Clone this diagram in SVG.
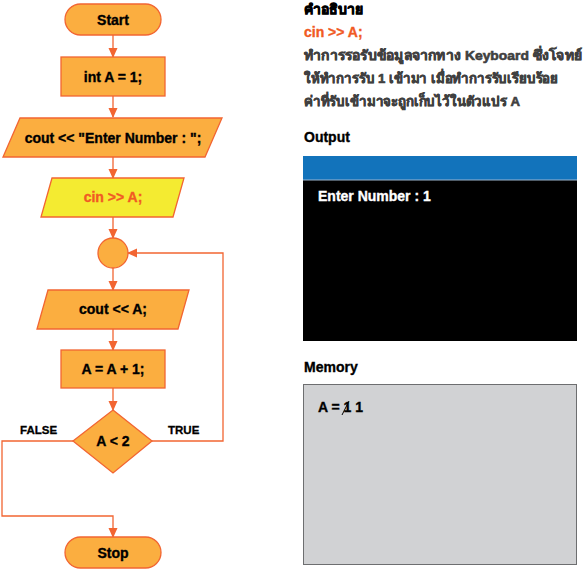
<svg xmlns="http://www.w3.org/2000/svg" width="585" height="569" viewBox="0 0 585 569">
<defs>
<style>
.sh{fill:#FBAE40;stroke:#F26532;stroke-width:1.3}
.yl{fill:#F4EB31;stroke:#F26532;stroke-width:1.3}
.ln{fill:none;stroke:#F26532;stroke-width:1.3}
.t{font-family:"Liberation Sans","Noto Sans",sans-serif;font-weight:bold;font-size:14px;fill:#000;stroke:#000;stroke-width:0.35}
.c{text-anchor:middle}
.red{fill:#F15A24;stroke:#F15A24}
.wh{fill:#fff;stroke:#fff}
.th{font-family:"Liberation Sans","Noto Sans","DejaVu Sans",sans-serif;font-weight:bold;font-size:13.5px;fill:#404040;stroke:#404040;stroke-width:0.6}
.lb{font-family:"Liberation Sans",sans-serif;font-weight:bold;font-size:11.5px;fill:#000;stroke:#000;stroke-width:0.3}
</style>
<marker id="ah" markerWidth="10" markerHeight="10" refX="9" refY="5" orient="auto" markerUnits="userSpaceOnUse">
<path d="M0,0.5 L10,5 L0,9.5 Z" fill="#F26532"/>
</marker>
</defs>
<rect width="585" height="569" fill="#fff"/>
<g id="connectors">
<line class="ln" x1="113" y1="35" x2="113" y2="57" marker-end="url(#ah)"/>
<line class="ln" x1="113" y1="96" x2="113" y2="117" marker-end="url(#ah)"/>
<line class="ln" x1="113" y1="157" x2="113" y2="178" marker-end="url(#ah)"/>
<line class="ln" x1="113" y1="217" x2="113" y2="238" marker-end="url(#ah)"/>
<line class="ln" x1="113" y1="268" x2="113" y2="290" marker-end="url(#ah)"/>
<line class="ln" x1="113" y1="329" x2="113" y2="350" marker-end="url(#ah)"/>
<line class="ln" x1="113" y1="388" x2="113" y2="410" marker-end="url(#ah)"/>
<polyline class="ln" points="73,441 2,441 2,516 113,516 113,537" marker-end="url(#ah)"/>
<polyline class="ln" points="152,441 223,441 223,253 128,253" marker-end="url(#ah)"/>
<text class="lb" x="20" y="434">FALSE</text>
<text class="lb" x="168" y="434">TRUE</text>
</g>
<g id="start">
<rect class="sh" x="65" y="4" width="96" height="31" rx="15.5"/>
<text class="t c" x="113" y="24.5" font-size="15">Start</text>
</g>
<g id="initA">
<rect class="sh" x="61" y="57" width="104" height="39"/>
<text class="t c" x="113" y="81.5">int A = 1;</text>
</g>
<g id="coutEnter">
<polygon class="sh" points="20,118 222,118 205,157 3,157"/>
<text class="t c" x="113" y="142.5">cout &lt;&lt; "Enter Number : ";</text>
</g>
<g id="cin">
<polygon class="yl" points="52,178 184,178 173,217 41,217"/>
<text class="t c red" x="113" y="202">cin &gt;&gt; A;</text>
</g>
<g id="connector">
<circle class="sh" cx="113" cy="253" r="15"/>
</g>
<g id="coutA">
<polygon class="sh" points="48,290 189,290 178,329 37,329"/>
<text class="t c" x="113" y="314">cout &lt;&lt; A;</text>
</g>
<g id="incA">
<rect class="sh" x="61" y="350" width="104" height="38"/>
<text class="t c" x="113" y="374">A = A + 1;</text>
</g>
<g id="decision">
<polygon class="sh" points="113,410 152,441 113,473 73,441"/>
<text class="t c" x="113" y="446">A &lt; 2</text>
</g>
<g id="stop">
<rect class="sh" x="65" y="537" width="96" height="31" rx="15.5"/>
<text class="t c" x="113" y="557.5" font-size="15">Stop</text>
</g>
<g id="description">
<text class="t" x="304" y="14" font-size="13" style="stroke-width:0.7">คำอธิบาย</text>
<text class="t red" x="304" y="37" font-size="14">cin &gt;&gt; A;</text>
<text class="th" x="304" y="60" textLength="278" lengthAdjust="spacingAndGlyphs">ทำการรอรับข้อมูลจากทาง Keyboard ซึ่งโจทย์</text>
<text class="th" x="304" y="83" textLength="254" lengthAdjust="spacingAndGlyphs">ให้ทำการรับ 1 เข้ามา เมื่อทำการรับเรียบร้อย</text>
<text class="th" x="304" y="106" textLength="216" lengthAdjust="spacingAndGlyphs">ค่าที่รับเข้ามาจะถูกเก็บไว้ในตัวแปร A</text>
</g>
<g id="output">
<text class="t" x="304" y="142">Output</text>
<rect x="303" y="156" width="274" height="24" fill="#1273BB"/>
<rect x="303" y="180" width="274" height="161" fill="#000"/>
<line x1="303" y1="180" x2="577" y2="180" stroke="#9DB7D0" stroke-width="1"/>
<text class="t wh" x="318" y="201">Enter Number : 1</text>
</g>
<g id="memory">
<text class="t" x="304" y="372">Memory</text>
<rect x="303.5" y="384.5" width="273" height="180" fill="#D1D2D4" stroke="#6D6E70" stroke-width="1"/>
<text class="t" x="318" y="412">A = 1 1</text>
<line x1="342" y1="415" x2="349" y2="401" stroke="#000" stroke-width="1"/>
</g>
</svg>
